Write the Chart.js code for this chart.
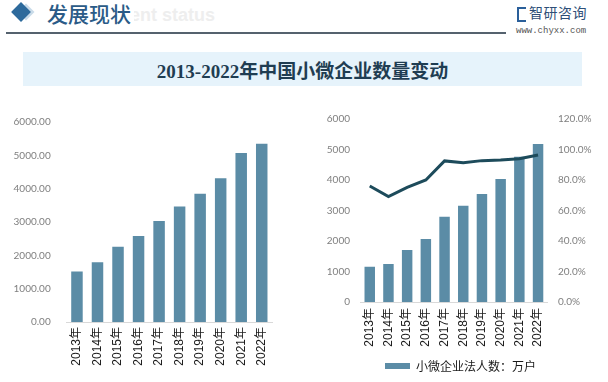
<!DOCTYPE html>
<html><head><meta charset="utf-8">
<script src="https://cdn.jsdelivr.net/npm/chart.js@4"></script>
<style>
html,body{margin:0;padding:0;background:#fff;width:608px;height:382px;overflow:hidden;position:relative;font-family:"Noto Sans CJK SC",sans-serif;}
.abs{position:absolute;}
#dia1{left:14px;top:5px;width:14px;height:14px;background:#2d6a9c;transform:rotate(45deg);z-index:3;}
#dia2{left:20px;top:6px;width:12px;height:12px;background:#c9dbe9;transform:rotate(45deg);z-index:2;}
#ghost{left:44px;top:5px;font:bold 18px "Liberation Sans",sans-serif;color:#eeeeee;white-space:nowrap;}
#head{left:36px;top:-2px;font:500 21px "Noto Sans CJK SC";color:#2b5b87;background:#fff;padding-left:11px;padding-right:3px;white-space:nowrap;z-index:1;}
#hline{left:6px;top:32px;width:500px;height:1.5px;background:#55626e;}
#logoIcon{left:517px;top:7px;width:7px;height:11px;border:2px solid #2a5f9a;border-right:none;}
#logo{left:529px;top:2px;font:14px "Noto Sans CJK SC";color:#2e4f78;white-space:nowrap;letter-spacing:0.5px;}
#url{left:516px;top:26px;font:9px "Liberation Mono",monospace;color:#555;white-space:nowrap;}
#tbox{left:23px;top:52px;width:559px;height:34px;background:#e6f3fb;}
#title{left:23px;top:60px;width:559px;text-align:center;font:bold 19px "Liberation Serif","Noto Sans CJK SC",serif;color:#1f3d52;line-height:24px;white-space:nowrap;}
</style></head>
<body>
<div class="abs" id="ghost">Development status</div>
<div class="abs" id="dia2"></div>
<div class="abs" id="dia1"></div>
<div class="abs" id="head">发展现状</div>
<div class="abs" id="hline"></div>
<div class="abs" id="logoIcon"></div>
<div class="abs" id="logo">智研咨询</div>
<div class="abs" id="url">www.chyxx.com</div>
<div class="abs" id="tbox"></div>
<div class="abs" id="title">2013-2022年中国小微企业数量变动</div>
<div class="abs" style="left:0;top:100px;width:300px;height:282px;"><canvas id="c1" width="300" height="282"></canvas></div>
<div class="abs" style="left:300px;top:100px;width:308px;height:282px;"><canvas id="c2" width="308" height="282"></canvas></div>
<script>
const years = ['2013年','2014年','2015年','2016年','2017年','2018年','2019年','2020年','2021年','2022年'];
const smallMicroTotal = [1518, 1796, 2257, 2583, 3027, 3462, 3846, 4310, 5068, 5346];
const legalEntities = [1157, 1246, 1705, 2066, 2797, 3158, 3541, 4033, 4764, 5180];
const entityShare = [76.1, 69.1, 75.2, 80.0, 92.5, 91.3, 92.7, 93.1, 94.0, 96.4];
const leftTicks = [0, 1000, 2000, 3000, 4000, 5000, 6000];
const shareTicks = [0, 20, 40, 60, 80, 100, 120];

Chart.defaults.animation = false;
Chart.defaults.devicePixelRatio = 1;
const BAR = '#5b8ca6';
const LINE = '#1d4b5b';
const yFont = {family:'Lato', size:10};
const xFont = {family:'"Liberation Sans","Noto Sans CJK SC"', size:12};

new Chart(document.getElementById('c1'), {
  type:'bar',
  data:{labels:years, datasets:[{data:smallMicroTotal, backgroundColor:BAR, barPercentage:0.56, categoryPercentage:1}]},
  options:{
    responsive:false,
    layout:{padding:{top:19,right:28,left:0,bottom:0}},
    plugins:{legend:{display:false},tooltip:{enabled:false}},
    scales:{
      x:{grid:{display:false,drawTicks:false},border:{display:true,color:'#d9d9d9'},
         ticks:{autoSkip:false,minRotation:90,maxRotation:90,padding:5,color:'#1a1a1a',font:xFont},
         afterFit:s=>{s.height=60;}},
      y:{min:0,max:6000,grid:{display:false,drawTicks:false},border:{display:false},
         afterBuildTicks:s=>{s.ticks=leftTicks.map(v=>({value:v}));},
         ticks:{padding:16,color:'#7f7f7f',font:yFont,callback:v=>Number(v).toFixed(2)},
         afterFit:s=>{s.width=66.7;}}
    }
  }
});

new Chart(document.getElementById('c2'), {
  type:'bar',
  data:{labels:years, datasets:[
    {type:'line', label:'法人占比', data:entityShare, yAxisID:'y1', borderColor:LINE, borderWidth:3, pointRadius:0, tension:0, order:0, fill:false},
    {type:'bar', label:'小微企业法人数：万户', data:legalEntities, yAxisID:'y', backgroundColor:BAR, barPercentage:0.56, categoryPercentage:1, order:1}
  ]},
  options:{
    responsive:false,
    layout:{padding:{top:19,right:0,left:13,bottom:0}},
    plugins:{
      tooltip:{enabled:false},
      legend:{position:'bottom',labels:{filter:i=>i.datasetIndex===1,boxWidth:25,boxHeight:6,padding:10,color:'#1a1a1a',font:{family:'"Noto Sans CJK SC"',size:12}}}
    },
    scales:{
      x:{grid:{display:false,drawTicks:false},border:{display:true,color:'#d9d9d9'},
         ticks:{autoSkip:false,minRotation:90,maxRotation:90,padding:6,color:'#1a1a1a',font:xFont},
         afterFit:s=>{s.height=48;}},
      y:{position:'left',min:0,max:6000,grid:{display:false,drawTicks:false},border:{display:false},
         afterBuildTicks:s=>{s.ticks=leftTicks.map(v=>({value:v}));},
         ticks:{padding:10.4,color:'#7f7f7f',font:yFont,callback:v=>String(v)},
         afterFit:s=>{s.width=47.4;}},
      y1:{position:'right',min:0,max:120,grid:{display:false,drawTicks:false},border:{display:false},
         afterBuildTicks:s=>{s.ticks=shareTicks.map(v=>({value:v}));},
         ticks:{padding:10.6,color:'#7f7f7f',font:yFont,callback:v=>Number(v).toFixed(1)+'%'},
         afterFit:s=>{s.width=60.6;}}
    }
  }
});
</script>
</body></html>
